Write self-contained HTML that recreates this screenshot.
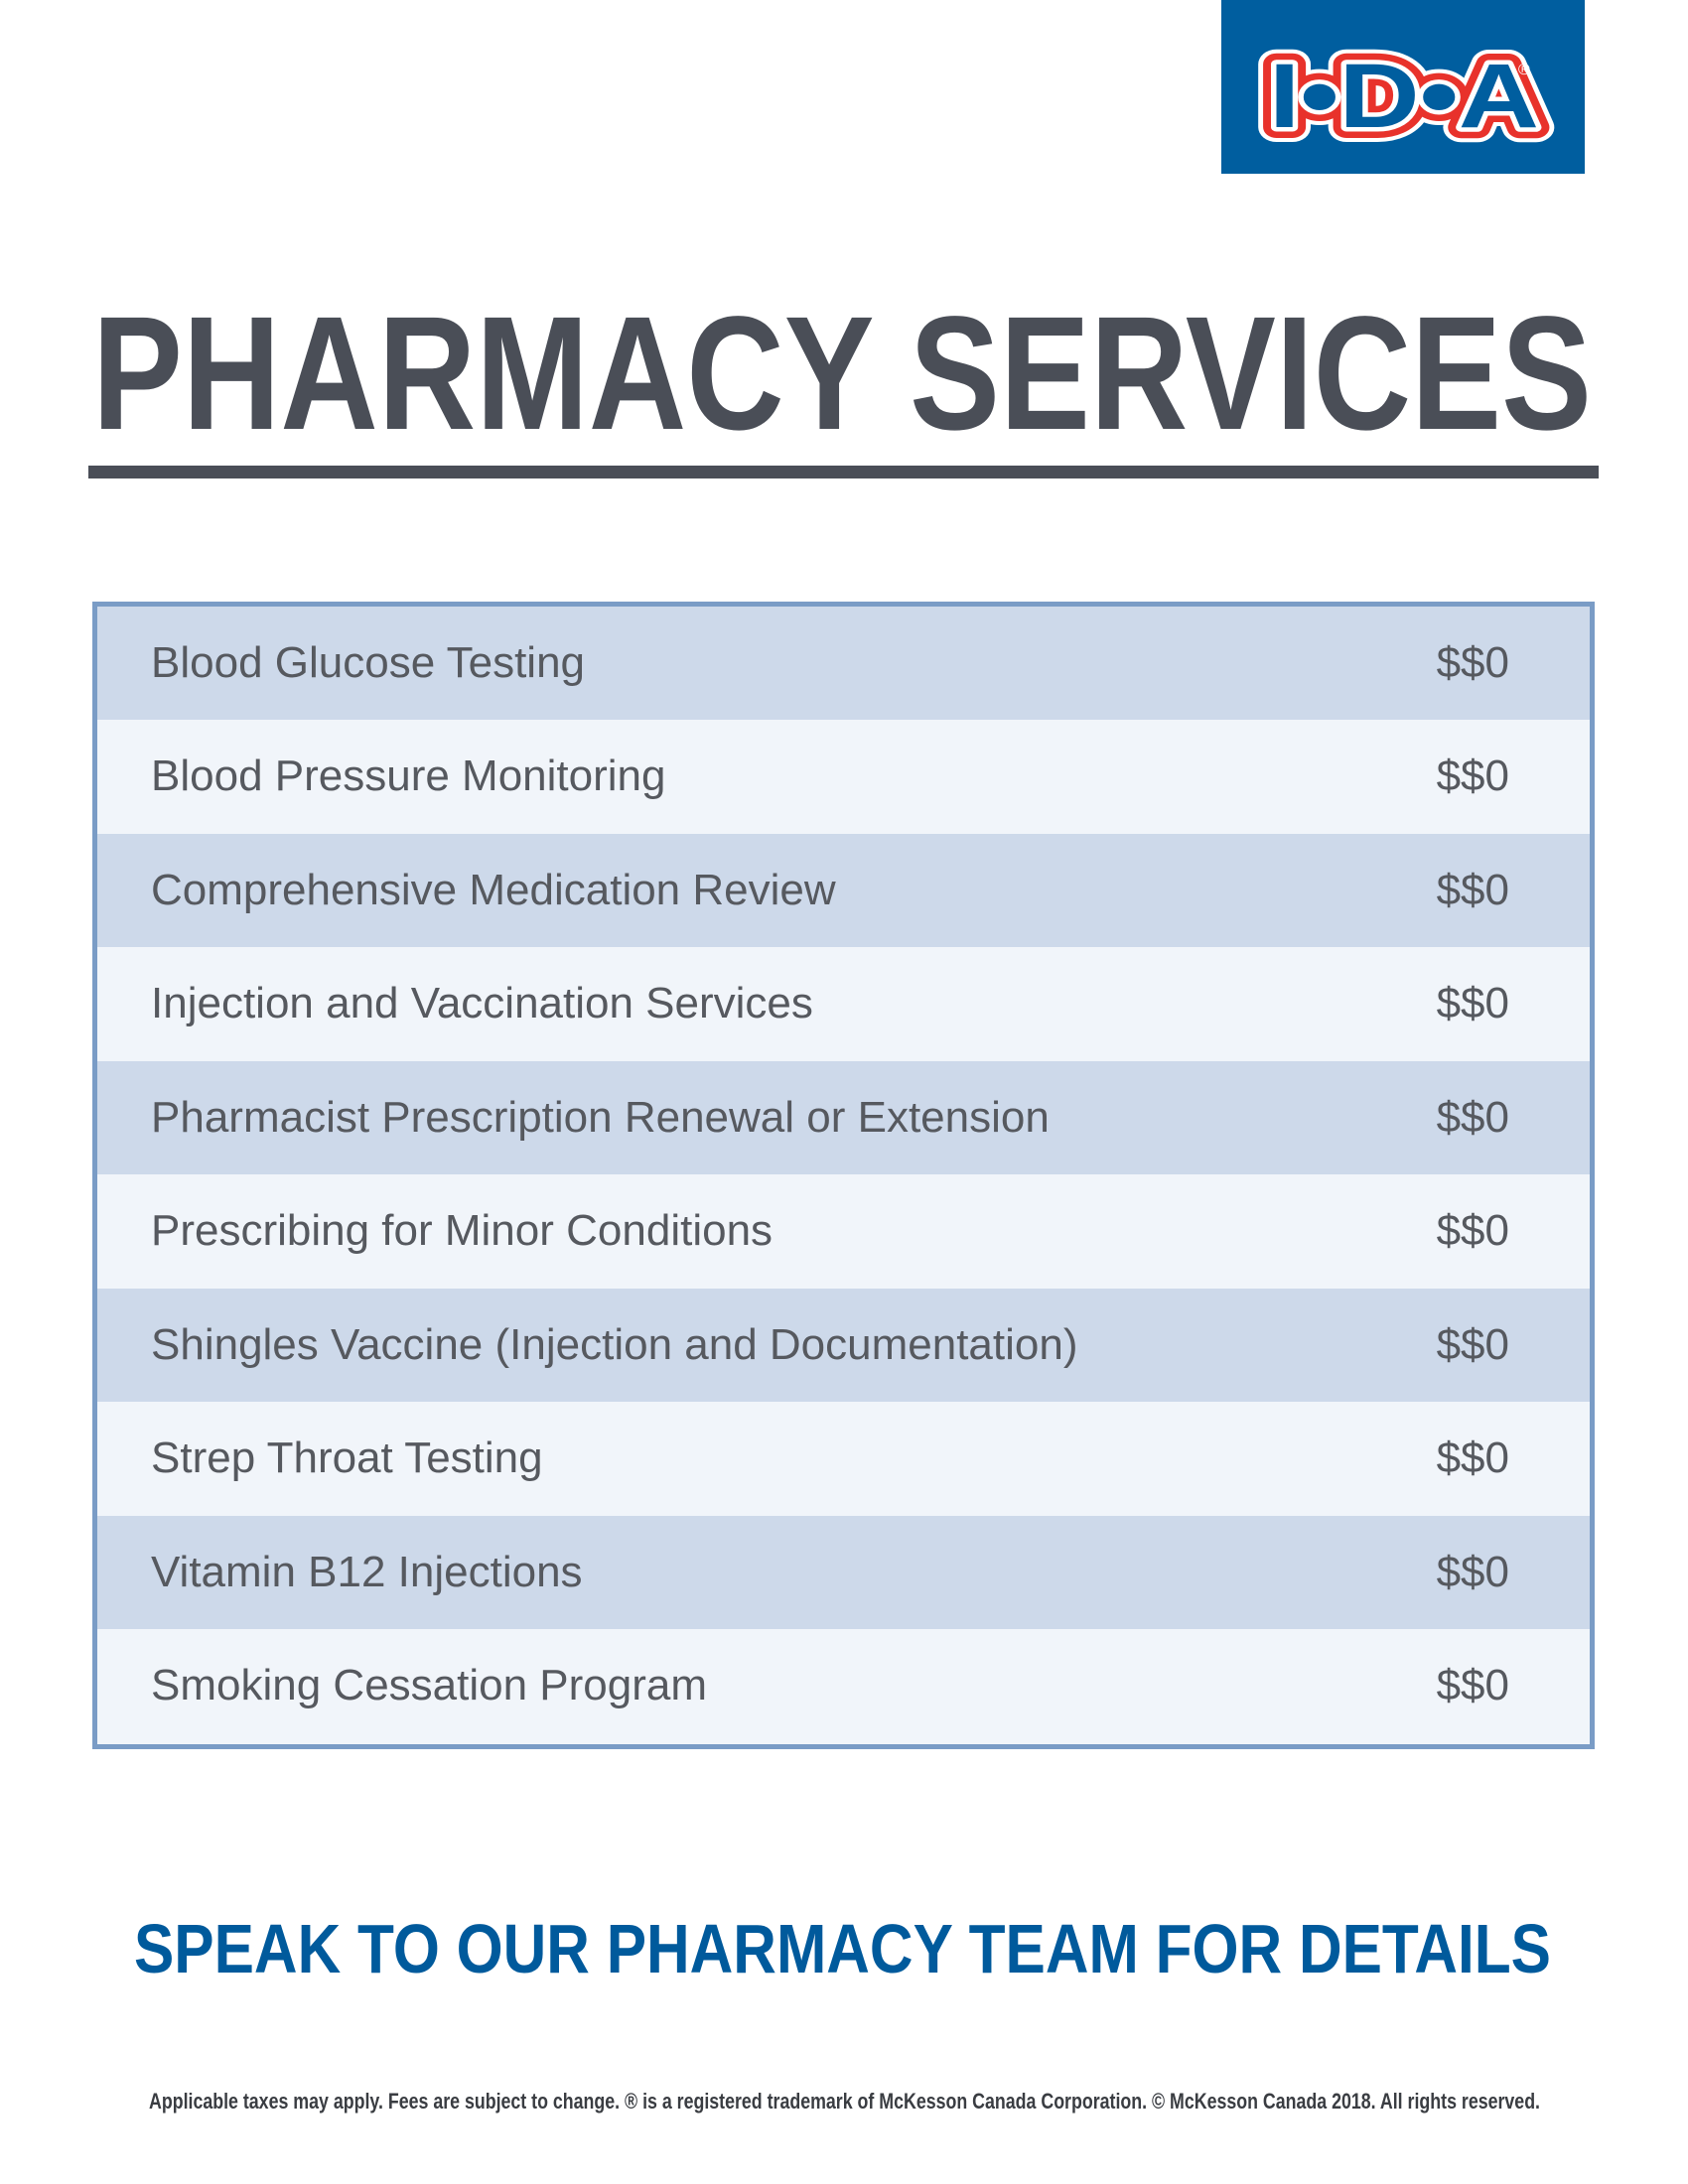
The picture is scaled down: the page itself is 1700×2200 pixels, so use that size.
<!DOCTYPE html>
<html><head><meta charset="utf-8"><style>
html,body{margin:0;padding:0;background:#fff;}
svg{display:block;}
</style></head><body>
<svg width="1700" height="2200" viewBox="0 0 1700 2200" xmlns="http://www.w3.org/2000/svg" font-family="'Liberation Sans', sans-serif">
<rect width="1700" height="2200" fill="#fff"/>
<rect x="1230" y="0" width="366" height="175" fill="#005e9f"/>
<g font-weight="bold" font-size="92" text-anchor="start">
<text x="1278" y="128" textLength="272" lengthAdjust="spacingAndGlyphs" fill="none" stroke="#fff" stroke-width="30" stroke-linejoin="round">I•D•A</text>
<text x="1278" y="128" textLength="272" lengthAdjust="spacingAndGlyphs" fill="none" stroke="#e8322b" stroke-width="22" stroke-linejoin="round">I•D•A</text>
<text x="1278" y="128" textLength="272" lengthAdjust="spacingAndGlyphs" fill="none" stroke="#fff" stroke-width="9" stroke-linejoin="round">I•D•A</text>
<text x="1278" y="128" textLength="272" lengthAdjust="spacingAndGlyphs" fill="#005e9f">I•D•A</text>
</g>
<text x="1529" y="75" font-size="16" fill="#fff">®</text>
<text x="93" y="432" font-size="163" font-weight="bold" fill="#4a4e57" textLength="1510" lengthAdjust="spacingAndGlyphs">PHARMACY SERVICES</text>
<rect x="89" y="469" width="1521" height="13" fill="#4a4e57"/>
<rect x="95.5" y="608.5" width="1508" height="1151" fill="#f1f5fa" stroke="#7a9cc6" stroke-width="5"/>
<g fill="#cdd9ea">
<rect x="98" y="611" width="1503" height="114"/>
<rect x="98" y="840" width="1503" height="114"/>
<rect x="98" y="1069" width="1503" height="114"/>
<rect x="98" y="1298" width="1503" height="114"/>
<rect x="98" y="1527" width="1503" height="114"/>
</g>
<g font-size="44" fill="#56595f">
<text x="152" y="682">Blood Glucose Testing</text>
<text x="152" y="796">Blood Pressure Monitoring</text>
<text x="152" y="911">Comprehensive Medication Review</text>
<text x="152" y="1025">Injection and Vaccination Services</text>
<text x="152" y="1140">Pharmacist Prescription Renewal or Extension</text>
<text x="152" y="1254">Prescribing for Minor Conditions</text>
<text x="152" y="1369">Shingles Vaccine (Injection and Documentation)</text>
<text x="152" y="1483">Strep Throat Testing</text>
<text x="152" y="1598">Vitamin B12 Injections</text>
<text x="152" y="1712">Smoking Cessation Program</text>
</g>
<g font-size="44" fill="#56595f" text-anchor="end">
<text x="1520" y="682">$$0</text>
<text x="1520" y="796">$$0</text>
<text x="1520" y="911">$$0</text>
<text x="1520" y="1025">$$0</text>
<text x="1520" y="1140">$$0</text>
<text x="1520" y="1254">$$0</text>
<text x="1520" y="1369">$$0</text>
<text x="1520" y="1483">$$0</text>
<text x="1520" y="1598">$$0</text>
<text x="1520" y="1712">$$0</text>
</g>
<text x="135" y="1987" font-size="70" font-weight="bold" fill="#005a9c" textLength="1427" lengthAdjust="spacingAndGlyphs">SPEAK TO OUR PHARMACY TEAM FOR DETAILS</text>
<text x="150" y="2124" font-size="22" font-weight="bold" fill="#3a3d42" textLength="1401" lengthAdjust="spacingAndGlyphs">Applicable taxes may apply. Fees are subject to change. ® is a registered trademark of McKesson Canada Corporation. © McKesson Canada 2018. All rights reserved.</text>
</svg>
</body></html>
